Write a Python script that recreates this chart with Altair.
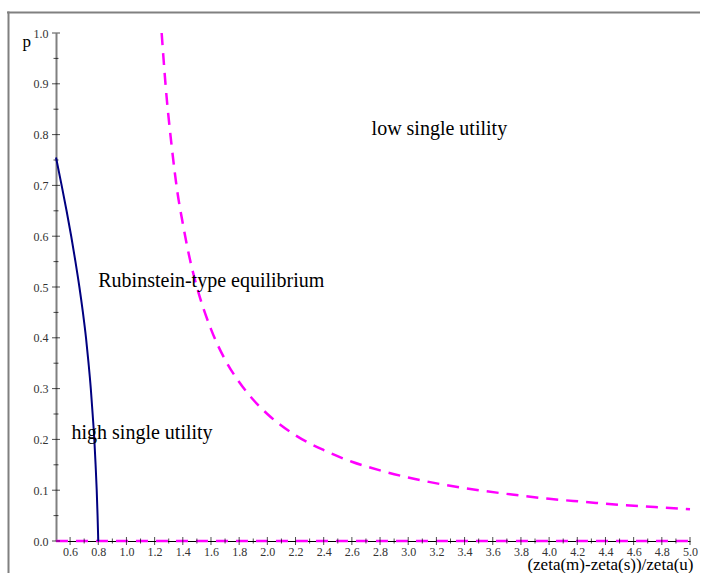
import altair as alt
import pandas as pd

# ---- data ----
blue_x = [0.50, 0.540, 0.575, 0.608, 0.638, 0.666, 0.691, 0.713, 0.731, 0.747, 0.760, 0.772, 0.781, 0.789, 0.795, 0.800]
blue_p = [0.755, 0.70, 0.65, 0.60, 0.55, 0.50, 0.45, 0.40, 0.35, 0.30, 0.25, 0.20, 0.15, 0.10, 0.05, 0.0]

mag_x = [1.25, 1.28, 1.32, 1.36, 1.40, 1.45, 1.50, 1.60, 1.70, 1.80, 1.90, 2.00, 2.20, 2.40,
         2.60, 2.80, 3.00, 3.25, 3.50, 3.75, 4.00, 4.25, 4.50, 4.75, 5.00]
mag_p = [1.00, 0.89, 0.78, 0.69, 0.625, 0.555, 0.50, 0.417, 0.357, 0.313, 0.278, 0.25, 0.208, 0.179,
         0.156, 0.139, 0.125, 0.111, 0.10, 0.091, 0.083, 0.077, 0.071, 0.067, 0.0625]

base_x = [0.5, 5.0]
base_p = [0.0, 0.0]

x_major = [0.6, 0.8, 1.0, 1.2, 1.4, 1.6, 1.8, 2.0, 2.2, 2.4, 2.6, 2.8, 3.0, 3.2, 3.4, 3.6, 3.8,
           4.0, 4.2, 4.4, 4.6, 4.8, 5.0]
x_minor = [0.7, 0.9, 1.1, 1.3, 1.5, 1.7, 1.9, 2.1, 2.3, 2.5, 2.7, 2.9, 3.1, 3.3, 3.5, 3.7, 3.9,
           4.1, 4.3, 4.5, 4.7, 4.9]
y_major = [0.0, 0.1, 0.2, 0.3, 0.4, 0.5, 0.6, 0.7, 0.8, 0.9, 1.0]
y_minor = [0.05, 0.15, 0.25, 0.35, 0.45, 0.55, 0.65, 0.75, 0.85, 0.95]

note_text = ["low single utility", "Rubinstein-type equilibrium", "high single utility"]
note_x = [2.74, 0.80, 0.61]
note_p = [0.80, 0.50, 0.20]

x_title = "(zeta(m)-zeta(s))/zeta(u)"
y_title = "p"

# ---- build one table ----
rows = []
rows += [dict(x=a, p=b, s="blue", o=i) for i, (a, b) in enumerate(zip(blue_x, blue_p))]
rows += [dict(x=a, p=b, s="mag", o=i) for i, (a, b) in enumerate(zip(mag_x, mag_p))]
rows += [dict(x=a, p=b, s="base", o=i) for i, (a, b) in enumerate(zip(base_x, base_p))]
rows += [dict(x=a, p=0.0, s="xmaj", o=0) for a in x_major]
rows += [dict(x=a, p=0.0, s="xmin", o=0) for a in x_minor]
rows += [dict(x=0.5, p=b, s="ymaj", o=0) for b in y_major]
rows += [dict(x=0.5, p=b, s="ymin", o=0) for b in y_minor]
rows += [dict(x=a, p=b, s="note", o=0, t=t) for a, b, t in zip(note_x, note_p, note_text)]
df = pd.DataFrame(rows)

W, H = 634, 508
SERIF = "Tinos, Times New Roman, serif"

x_enc = alt.X("x:Q",
              scale=alt.Scale(domain=[0.5, 5.0], nice=False, zero=False),
              axis=alt.Axis(values=x_major, format=".1f", ticks=False, grid=False,
                            domainColor="#000000", domainWidth=1,
                            labelFont=SERIF, labelFontSize=12, labelColor="#333333",
                            labelPadding=5, labelFlush=False,
                            title=x_title, titleFont=SERIF, titleFontSize=17,
                            titleFontWeight="normal", titleColor="#000000",
                            titleAlign="right", titleAnchor="end", titleBaseline="alphabetic",
                            titleX=637, titleY=28))
y_enc = alt.Y("p:Q",
              scale=alt.Scale(domain=[0.0, 1.0], nice=False, zero=False),
              axis=alt.Axis(values=y_major, format=".1f", ticks=False, grid=False,
                            domainColor="#808080", domainWidth=2,
                            labelFont=SERIF, labelFontSize=12, labelColor="#333333",
                            labelPadding=8, labelFlush=False,
                            title=y_title, titleFont=SERIF, titleFontSize=17,
                            titleFontWeight="normal", titleColor="#000000",
                            titleAngle=0, titleAlign="left", titleBaseline="alphabetic",
                            titleX=-34, titleY=13))

base = alt.Chart(df).encode(x=x_enc, y=y_enc)

frame_df = pd.DataFrame({"k": [0]})
frame_top = alt.Chart(frame_df).mark_rule(color="#808080", strokeWidth=2).encode(
    x=alt.value(-49), x2=alt.value(2000), y=alt.value(-20.5))
frame_left = alt.Chart(frame_df).mark_rule(color="#808080", strokeWidth=2).encode(
    x=alt.value(-47.5), y=alt.value(-21.5), y2=alt.value(2000))

base_line = base.transform_filter(alt.datum.s == "base").mark_line(
    color="#FF00FF", strokeWidth=2.5, strokeDash=[12, 8]
).encode(order="o:Q")

mag_line = base.transform_filter(alt.datum.s == "mag").mark_line(
    color="#FF00FF", strokeWidth=2.5, strokeDash=[12, 8], interpolate="monotone"
).encode(order="o:Q")

blue_line = base.transform_filter(alt.datum.s == "blue").mark_line(
    color="#000080", strokeWidth=2, interpolate="monotone"
).encode(order="o:Q")

xmaj = base.transform_filter(alt.datum.s == "xmaj").mark_tick(
    orient="vertical", size=8, thickness=1, color="#000000")
xmin = base.transform_filter(alt.datum.s == "xmin").mark_tick(
    orient="vertical", size=5, thickness=1, color="#000000")
ymaj = base.transform_filter(alt.datum.s == "ymaj").mark_tick(
    orient="horizontal", size=8, thickness=1, color="#000000")
ymin = base.transform_filter(alt.datum.s == "ymin").mark_tick(
    orient="horizontal", size=5, thickness=1, color="#000000")

notes = base.transform_filter(alt.datum.s == "note").mark_text(
    align="left", baseline="alphabetic", font=SERIF, fontSize=20, color="#000000"
).encode(text="t:N")

chart = alt.layer(
    frame_top, frame_left, base_line, xmaj, xmin, ymaj, ymin, mag_line, blue_line, notes
).properties(
    width=W, height=H,
    background="white",
    autosize=alt.AutoSizeParams(type="none"),
    padding={"left": 56, "top": 33, "right": 10, "bottom": 32},
).configure_view(strokeWidth=0)

chart.save("out.html", embed_options={"renderer": "svg", "actions": False})
